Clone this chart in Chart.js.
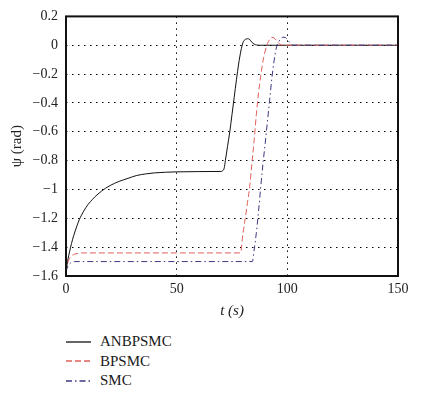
<!DOCTYPE html>
<html><head><meta charset="utf-8">
<script src="https://cdn.jsdelivr.net/npm/chart.js@4/dist/chart.umd.min.js"></script>
<style>
html,body{margin:0;padding:0;background:#fff;width:421px;height:396px;overflow:hidden;font-family:"Liberation Serif","DejaVu Serif",serif;}
#wrap{position:absolute;left:0;top:0;width:421px;height:330px;}
#legend{position:absolute;left:66px;top:332px;font-size:15px;color:#1a1a1a;}
.row{height:19.5px;display:flex;align-items:center;}
.row svg{margin-right:9px;}
</style></head>
<body>
<div id="wrap"><canvas id="c" width="421" height="330"></canvas></div>
<div id="legend"></div>
<script>
const seriesNames = ['ANBPSMC','BPSMC','SMC'];
const anbT = [0,0.5,1,1.5,2,3,4,5,6,7,8,9,10,11,12,13,14,16,18,20,22,24,26,28,30,32,36,40,50,60,70,70.8,71.5,72,73,74,75,76,77,78,79,80,81,82,83,84,85,86,88,150];
const anbY = [-1.57,-1.52,-1.475,-1.44,-1.405,-1.345,-1.295,-1.25,-1.21,-1.178,-1.15,-1.125,-1.103,-1.085,-1.068,-1.052,-1.038,-1.012,-0.99,-0.972,-0.957,-0.944,-0.933,-0.923,-0.912,-0.903,-0.892,-0.885,-0.878,-0.876,-0.875,-0.87,-0.85,-0.80,-0.70,-0.60,-0.48,-0.36,-0.24,-0.13,-0.04,0.02,0.04,0.045,0.04,0.02,0.008,0.002,0,0];
const bpT = [0,0.5,1,1.5,2,3,4,5,8,78.8,80,81,82,83,84,85,86,87,88,89,90,91,92,93,94,95,96,97,98,150];
const bpY = [-1.57,-1.53,-1.50,-1.48,-1.468,-1.455,-1.448,-1.444,-1.44,-1.44,-1.30,-1.20,-1.09,-0.98,-0.82,-0.66,-0.48,-0.33,-0.21,-0.11,-0.04,0.01,0.04,0.055,0.05,0.035,0.015,0.005,0,0];
const smcT = [0,0.5,1,1.5,2,3,4,84.2,85,86,87,88,89,90,91,92,93,94,95,96,97,98,99,100,101,102,103,150];
const smcY = [-1.57,-1.545,-1.528,-1.518,-1.51,-1.503,-1.50,-1.50,-1.42,-1.30,-1.15,-0.98,-0.82,-0.68,-0.53,-0.38,-0.23,-0.11,-0.02,0.02,0.045,0.055,0.055,0.04,0.02,0.005,0,0];
const xTickLabels = ['0','50','100','150'];
const yTickLabels = ['\u22121.6','\u22121.4','\u22121.2','\u22121','\u22120.8','\u22120.6','\u22120.4','\u22120.2','0','0.2'];

const colors = ['#111111','#e0605a','#3a3a80'];
const dashes = [[],[6,3],[6,3,1.5,3]];
const tSets = [anbT,bpT,smcT], ySets = [anbY,bpY,smcY];

const datasets = seriesNames.map((n,i)=>({
  label:n,
  data:tSets[i].map((t,k)=>({x:t,y:ySets[i][k]})),
  borderColor:colors[i], borderWidth:1, borderDash:dashes[i],
  pointRadius:0, cubicInterpolationMode:'monotone', fill:false
}));
datasets.reverse();

const frame = {
  id:'frame',
  afterDraw(chart){
    const {ctx, chartArea:a} = chart;
    ctx.save();
    ctx.strokeStyle='#111'; ctx.lineWidth=2;
    ctx.strokeRect(a.left, a.top, a.right-a.left, a.bottom-a.top);
    ctx.restore();
  }
};

const font = {family:'"Liberation Serif","DejaVu Serif",serif', size:14};
new Chart(document.getElementById('c'), {
  type:'line',
  data:{datasets},
  options:{
    responsive:false, animation:false,
    layout:{padding:{left:0,right:23,top:15,bottom:10}},
    plugins:{legend:{display:false}, tooltip:{enabled:false}},
    scales:{
      x:{type:'linear', min:0, max:150,
        afterFit:s=>{s.height=44;},
        ticks:{stepSize:50, color:'#222', font, padding:5,
          callback:(v)=>xTickLabels[Math.round(v/50)]},
        grid:{color:'#000', lineWidth:1, drawTicks:false},
        border:{display:false, dash:[1.5,4.5]},
        title:{display:true, text:'t (s)', color:'#222', font:{...font, size:15, style:'italic'}, padding:{top:0,bottom:0}}
      },
      y:{min:-1.6, max:0.2,
        afterFit:s=>{s.width=66;},
        ticks:{stepSize:0.2, color:'#222', font, padding:8,
          callback:(v)=>yTickLabels[Math.round((v+1.6)/0.2)]},
        grid:{color:'#000', lineWidth:1, drawTicks:false},
        border:{display:false, dash:[1.5,4.5]},
        title:{display:true, text:'\u03c8 (rad)', color:'#222', font:{...font, size:15}, padding:{top:8,bottom:0}}
      }
    }
  },
  plugins:[frame]
});

const lg = document.getElementById('legend');
seriesNames.forEach((n,i)=>{
  const row = document.createElement('div'); row.className='row';
  const dash = dashes[i].length? dashes[i].join(','):'none';
  row.innerHTML = `<svg width="25" height="4"><line x1="0" y1="2" x2="25" y2="2" stroke="${colors[i]}" stroke-width="1.3" stroke-dasharray="${dash}"/></svg><span>${n}</span>`;
  lg.appendChild(row);
});
</script>
</body></html>
